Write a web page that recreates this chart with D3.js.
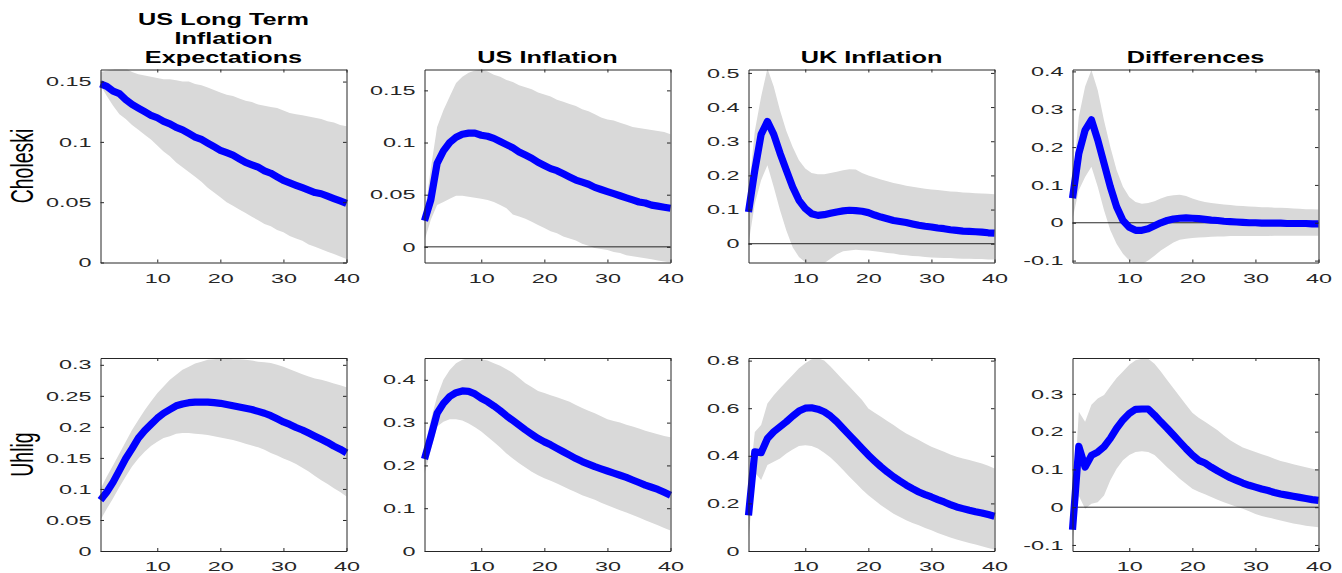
<!DOCTYPE html>
<html>
<head>
<meta charset="utf-8">
<script src="https://cdn.jsdelivr.net/npm/d3@7"></script>
<style>
  body { margin: 0; background: #fff; }
  svg { display: block; font-family: "Liberation Sans", Arial, Helvetica, sans-serif; }
</style>
</head>
<body>
<div id="chart"></div>
<script>
//Horizons (quarters)
var horizon = [1,2,3,4,5,6,7,8,9,10,11,12,13,14,15,16,17,18,19,20,
               21,22,23,24,25,26,27,28,29,30,31,32,33,34,35,36,37,38,39,40];

var titles = [['US Long Term', 'Inflation', 'Expectations'], ['US Inflation'], ['UK Inflation'], ['Differences']];
var rowNames = ['Choleski', 'Uhlig'];
var xTicks = [10, 20, 30, 40];

//Choleski - US long term inflation expectations
var cholExpMid = [0.148,0.146,0.142,0.140,0.135,0.131,0.128,0.125,0.122,0.120,0.117,0.115,0.112,0.110,0.107,0.104,0.102,0.099,0.096,0.093,
                  0.091,0.089,0.086,0.083,0.081,0.079,0.076,0.074,0.071,0.068,0.066,0.064,0.062,0.060,0.058,0.057,0.055,0.053,0.051,0.049];
var cholExpHi  = [0.158,0.159,0.160,0.162,0.161,0.158,0.156,0.155,0.154,0.153,0.152,0.152,0.151,0.150,0.150,0.148,0.147,0.145,0.143,0.141,
                  0.139,0.138,0.136,0.134,0.133,0.131,0.130,0.129,0.128,0.126,0.124,0.123,0.122,0.121,0.120,0.119,0.117,0.116,0.114,0.113];
var cholExpLo  = [0.147,0.138,0.130,0.123,0.119,0.114,0.110,0.106,0.102,0.097,0.092,0.088,0.083,0.079,0.075,0.071,0.067,0.062,0.058,0.054,
                  0.050,0.047,0.044,0.041,0.038,0.035,0.032,0.030,0.027,0.025,0.022,0.020,0.018,0.015,0.013,0.011,0.009,0.007,0.005,0.003];

//Choleski - US inflation
var cholUsMid = [0.025,0.045,0.080,0.092,0.100,0.105,0.108,0.109,0.109,0.107,0.106,0.104,0.101,0.098,0.095,0.091,0.088,0.085,0.081,0.078,
                 0.075,0.073,0.070,0.067,0.064,0.062,0.060,0.057,0.055,0.053,0.051,0.049,0.047,0.045,0.043,0.042,0.040,0.039,0.038,0.037];
var cholUsHi  = [0.030,0.075,0.115,0.131,0.144,0.157,0.163,0.167,0.169,0.170,0.168,0.165,0.163,0.160,0.158,0.155,0.153,0.151,0.148,0.146,
                 0.144,0.141,0.139,0.137,0.135,0.132,0.130,0.127,0.124,0.122,0.121,0.119,0.117,0.115,0.114,0.113,0.112,0.111,0.110,0.108];
var cholUsLo  = [0.006,0.026,0.040,0.043,0.046,0.049,0.049,0.048,0.047,0.046,0.045,0.043,0.040,0.037,0.031,0.029,0.027,0.024,0.021,0.018,
                 0.015,0.013,0.010,0.008,0.006,0.003,0.001,-0.001,-0.002,-0.003,-0.005,-0.006,-0.008,-0.009,-0.010,-0.011,-0.012,-0.013,-0.014,-0.015];

//Choleski - UK inflation
var cholUkMid = [0.093,0.215,0.320,0.358,0.320,0.265,0.215,0.166,0.127,0.103,0.088,0.083,0.085,0.089,0.093,0.096,0.098,0.097,0.095,0.091,
                 0.084,0.078,0.073,0.068,0.065,0.062,0.058,0.054,0.051,0.049,0.046,0.044,0.041,0.039,0.037,0.036,0.035,0.034,0.032,0.031];
var cholUkHi  = [0.150,0.330,0.430,0.513,0.460,0.390,0.330,0.283,0.244,0.220,0.207,0.203,0.203,0.207,0.211,0.215,0.218,0.217,0.207,0.200,
                 0.194,0.188,0.183,0.178,0.174,0.170,0.167,0.164,0.161,0.159,0.157,0.155,0.153,0.152,0.150,0.149,0.148,0.147,0.146,0.145];
var cholUkLo  = [0.000,0.117,0.186,0.230,0.166,0.098,0.039,-0.010,-0.039,-0.054,-0.060,-0.063,-0.057,-0.044,-0.031,-0.022,-0.020,-0.018,-0.019,-0.020,
                 -0.022,-0.024,-0.027,-0.029,-0.032,-0.034,-0.036,-0.037,-0.039,-0.040,-0.041,-0.042,-0.042,-0.043,-0.044,-0.044,-0.045,-0.045,-0.046,-0.046];

//Choleski - differences
var cholDiffMid = [0.065,0.183,0.245,0.272,0.219,0.157,0.095,0.042,0.006,-0.012,-0.020,-0.020,-0.016,-0.008,0.000,0.006,0.010,0.012,0.013,0.012,
                   0.011,0.009,0.007,0.006,0.004,0.003,0.002,0.001,0.000,0.000,-0.001,-0.001,-0.001,-0.001,-0.002,-0.002,-0.002,-0.002,-0.003,-0.003];
var cholDiffHi  = [0.100,0.280,0.360,0.404,0.350,0.270,0.200,0.139,0.095,0.068,0.055,0.050,0.052,0.057,0.064,0.070,0.073,0.074,0.071,0.064,
                   0.059,0.055,0.052,0.050,0.048,0.047,0.045,0.044,0.043,0.042,0.041,0.041,0.040,0.040,0.039,0.038,0.037,0.036,0.036,0.035];
var cholDiffLo  = [0.010,0.086,0.121,0.148,0.095,0.033,-0.020,-0.056,-0.082,-0.100,-0.109,-0.109,-0.100,-0.087,-0.073,-0.063,-0.052,-0.045,-0.042,-0.040,
                   -0.039,-0.038,-0.037,-0.036,-0.036,-0.035,-0.035,-0.035,-0.035,-0.035,-0.035,-0.035,-0.034,-0.034,-0.034,-0.034,-0.034,-0.034,-0.034,-0.034];

//Uhlig - US long term inflation expectations
var uhligExpMid = [0.082,0.095,0.111,0.130,0.149,0.165,0.182,0.194,0.204,0.214,0.222,0.228,0.234,0.237,0.239,0.240,0.240,0.240,0.239,0.238,
                   0.236,0.234,0.232,0.230,0.228,0.225,0.222,0.218,0.213,0.208,0.204,0.199,0.195,0.190,0.185,0.180,0.175,0.169,0.164,0.158];
var uhligExpHi  = [0.100,0.120,0.138,0.157,0.176,0.195,0.211,0.227,0.241,0.254,0.265,0.276,0.284,0.292,0.297,0.302,0.305,0.308,0.309,0.310,
                   0.310,0.309,0.309,0.308,0.307,0.305,0.304,0.303,0.300,0.297,0.293,0.289,0.285,0.281,0.278,0.276,0.273,0.270,0.267,0.264];
var uhligExpLo  = [0.050,0.068,0.085,0.103,0.120,0.136,0.149,0.160,0.169,0.176,0.182,0.185,0.189,0.190,0.190,0.189,0.188,0.187,0.185,0.183,
                   0.181,0.179,0.176,0.173,0.170,0.167,0.163,0.158,0.154,0.149,0.145,0.140,0.134,0.128,0.121,0.114,0.108,0.101,0.095,0.088];

//Uhlig - US inflation
var uhligUsMid = [0.215,0.267,0.322,0.345,0.361,0.370,0.374,0.373,0.367,0.357,0.349,0.339,0.328,0.316,0.305,0.294,0.283,0.273,0.263,0.255,
                  0.248,0.240,0.232,0.224,0.216,0.209,0.203,0.197,0.192,0.187,0.182,0.177,0.172,0.166,0.160,0.154,0.149,0.144,0.137,0.130];
var uhligUsHi  = [0.240,0.306,0.361,0.400,0.423,0.439,0.447,0.451,0.451,0.448,0.445,0.439,0.433,0.425,0.416,0.404,0.392,0.383,0.374,0.369,
                  0.364,0.359,0.354,0.349,0.341,0.334,0.328,0.322,0.315,0.308,0.304,0.300,0.295,0.291,0.286,0.281,0.277,0.273,0.269,0.266];
var uhligUsLo  = [0.181,0.236,0.291,0.302,0.308,0.308,0.305,0.298,0.289,0.279,0.267,0.255,0.242,0.228,0.216,0.205,0.195,0.185,0.177,0.170,
                  0.164,0.158,0.151,0.144,0.137,0.130,0.125,0.120,0.113,0.107,0.101,0.095,0.090,0.084,0.078,0.072,0.066,0.060,0.054,0.048];

//Uhlig - UK inflation
var uhligUkMid = [0.150,0.417,0.413,0.473,0.501,0.522,0.543,0.567,0.588,0.600,0.602,0.596,0.585,0.567,0.543,0.515,0.487,0.459,0.431,0.403,
                  0.378,0.354,0.332,0.312,0.294,0.277,0.262,0.248,0.237,0.227,0.216,0.206,0.195,0.185,0.178,0.171,0.165,0.160,0.153,0.146];
var uhligUkHi  = [0.250,0.500,0.529,0.620,0.655,0.684,0.712,0.740,0.768,0.789,0.806,0.810,0.800,0.775,0.747,0.719,0.691,0.663,0.634,0.599,
                  0.581,0.564,0.546,0.529,0.511,0.494,0.480,0.466,0.452,0.438,0.428,0.417,0.406,0.396,0.389,0.382,0.375,0.368,0.358,0.347];
var uhligUkLo  = [0.050,0.330,0.298,0.361,0.375,0.389,0.410,0.427,0.441,0.444,0.441,0.431,0.413,0.393,0.368,0.340,0.312,0.286,0.258,0.234,
                  0.213,0.192,0.174,0.157,0.143,0.129,0.118,0.108,0.097,0.087,0.076,0.066,0.057,0.048,0.041,0.034,0.027,0.020,0.013,0.006];

//Uhlig - differences
var uhligDiffMid = [-0.060,0.161,0.106,0.137,0.146,0.160,0.182,0.209,0.231,0.248,0.259,0.260,0.260,0.244,0.226,0.209,0.191,0.173,0.155,0.138,
                    0.124,0.117,0.106,0.096,0.087,0.078,0.071,0.064,0.058,0.053,0.048,0.044,0.039,0.035,0.032,0.029,0.026,0.023,0.020,0.018];
var uhligDiffHi  = [-0.030,0.253,0.226,0.271,0.288,0.297,0.320,0.342,0.359,0.377,0.389,0.393,0.393,0.380,0.359,0.337,0.315,0.293,0.271,0.250,
                    0.237,0.226,0.215,0.204,0.190,0.177,0.167,0.158,0.152,0.146,0.140,0.135,0.128,0.122,0.118,0.114,0.110,0.106,0.102,0.099];
var uhligDiffLo  = [-0.090,0.030,-0.004,0.009,0.013,0.031,0.071,0.102,0.124,0.138,0.146,0.148,0.146,0.138,0.122,0.106,0.091,0.075,0.062,0.049,
                    0.041,0.034,0.027,0.020,0.013,0.007,0.001,-0.004,-0.011,-0.018,-0.023,-0.027,-0.031,-0.035,-0.039,-0.043,-0.046,-0.049,-0.051,-0.053];

//Axis limits and ticks, panel by panel (row by row)
var yLimits = [[0, 0.16], [-0.015, 0.17], [-0.055, 0.51], [-0.105, 0.405],
               [0, 0.311], [0, 0.451], [0, 0.811], [-0.116, 0.395]];
var yTicks = [[0, 0.05, 0.1, 0.15], [0, 0.05, 0.1, 0.15], [0, 0.1, 0.2, 0.3, 0.4, 0.5], [-0.1, 0, 0.1, 0.2, 0.3, 0.4],
              [0, 0.05, 0.1, 0.15, 0.2, 0.25, 0.3], [0, 0.1, 0.2, 0.3, 0.4], [0, 0.2, 0.4, 0.6, 0.8], [-0.1, 0, 0.1, 0.2, 0.3]];

var mids = [cholExpMid, cholUsMid, cholUkMid, cholDiffMid, uhligExpMid, uhligUsMid, uhligUkMid, uhligDiffMid];
var highs = [cholExpHi, cholUsHi, cholUkHi, cholDiffHi, uhligExpHi, uhligUsHi, uhligUkHi, uhligDiffHi];
var lows = [cholExpLo, cholUsLo, cholUkLo, cholDiffLo, uhligExpLo, uhligUsLo, uhligUkLo, uhligDiffLo];

//Canvas
var svg = d3.select('#chart').append('svg')
	.attr('width', 1342)
	.attr('height', 573);

var w = 246, h = 193;
var axisColor = '#262626';
var tickFmt = function(d) { return String(+d.toFixed(3)); };

mids.forEach(function(mid, i) {
	var col = i % 4,
		row = Math.floor(i / 4),
		x0 = 100.5 + col * 324,
		y0 = row === 0 ? 69.5 : 358;

	var xScale = d3.scaleLinear().domain([1, 40]).range([0, w]);
	var yScale = d3.scaleLinear().domain(yLimits[i]).range([h, 0]);

	var g = svg.append('g')
		.attr('transform', 'translate(' + x0 + ',' + y0 + ')');

	g.append('clipPath').attr('id', 'clip' + i)
		.append('rect').attr('width', w).attr('height', h);

	//Confidence band
	var rows = horizon.map(function(t, j) { return { t: t, m: mid[j], hi: highs[i][j], lo: lows[i][j] }; });

	g.append('path')
		.datum(rows)
		.attr('clip-path', 'url(#clip' + i + ')')
		.attr('fill', '#d9d9d9')
		.attr('d', d3.area()
			.x(function(d) { return xScale(d.t); })
			.y0(function(d) { return yScale(d.lo); })
			.y1(function(d) { return yScale(d.hi); }));

	//Zero line
	if (yLimits[i][0] < 0) {
		g.append('line')
			.attr('x1', 0).attr('x2', w)
			.attr('y1', yScale(0)).attr('y2', yScale(0))
			.attr('stroke', '#111')
			.attr('stroke-width', 0.9);
	}

	//Median response
	g.append('path')
		.datum(rows)
		.attr('fill', 'none')
		.attr('stroke', '#0000ff')
		.attr('stroke-width', 7.2)
		.attr('stroke-linejoin', 'round')
		.attr('d', d3.line()
			.x(function(d) { return xScale(d.t); })
			.y(function(d) { return yScale(d.m); }));

	//Axes (box with inward ticks)
	var left = g.append('g')
		.call(d3.axisLeft(yScale).tickValues(yTicks[i]).tickSizeInner(-3.5).tickSizeOuter(0).tickPadding(9).tickFormat(tickFmt));
	left.selectAll('text')
		.attr('x', -9 / 1.8)
		.attr('transform', 'scale(1.8,1)');

	g.append('g').attr('transform', 'translate(' + w + ',0)')
		.call(d3.axisRight(yScale).tickValues(yTicks[i]).tickSizeInner(-3.5).tickSizeOuter(0).tickFormat(''));

	var bottom = g.append('g').attr('transform', 'translate(0,' + h + ')')
		.call(d3.axisBottom(xScale).tickValues(xTicks).tickSizeInner(-3).tickSizeOuter(0).tickPadding(11).tickFormat(tickFmt));
	bottom.selectAll('text')
		.attr('transform', 'scale(1.8,1)');

	g.append('g')
		.call(d3.axisTop(xScale).tickValues(xTicks).tickSizeInner(-3).tickSizeOuter(0).tickFormat(''));

	g.selectAll('.domain, .tick line')
		.attr('stroke', axisColor)
		.attr('stroke-width', 1);
	g.selectAll('.tick text')
		.attr('fill', axisColor)
		.style('font-size', '13px');

	//Titles
	if (row === 0) {
		var lines = titles[col];
		var t = svg.append('text')
			.attr('text-anchor', 'middle')
			.attr('transform', 'translate(' + (x0 + w / 2) + ',' + (63 - (lines.length - 1) * 19) + ') scale(1.58,1)')
			.style('font-size', '16px')
			.style('font-weight', 'bold')
			.attr('fill', '#000');
		lines.forEach(function(s, k) {
			t.append('tspan').attr('x', 0).attr('dy', k === 0 ? 0 : 19).text(s);
		});
	}

	//Row labels
	if (col === 0) {
		svg.append('text')
			.attr('text-anchor', 'middle')
			.attr('transform', 'translate(33,' + (y0 + h / 2) + ') scale(1.6,1) rotate(-90)')
			.style('font-size', '19.5px')
			.attr('fill', '#000')
			.text(rowNames[row]);
	}
});
</script>
</body>
</html>
